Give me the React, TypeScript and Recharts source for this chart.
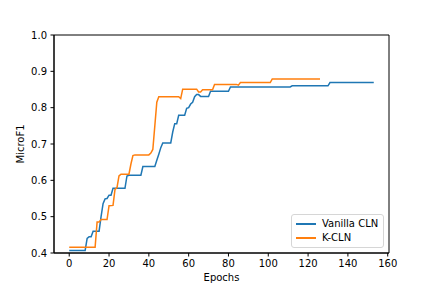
import React from 'react';
import { LineChart, Line, XAxis, YAxis, ReferenceArea, Label } from 'recharts';

const xTicks = [0, 20, 40, 60, 80, 100, 120, 140, 160];
const yTicks = [0.4, 0.5, 0.6, 0.7, 0.8, 0.9, 1.0];
const xDomain: [number, number] = [-7.65, 160.65];
const yDomain: [number, number] = [0.4, 1.0];

const vanillaEpochs = [0, 8, 9, 10, 11, 12, 15, 16, 17, 18, 19, 20, 21, 22, 28, 29, 30, 36, 37, 43, 44, 45, 46, 47, 51, 52, 53, 54, 55, 58, 59, 60, 61, 62, 63, 64, 65, 66, 70, 71, 80, 81, 111, 112, 130, 131, 153];
const vanillaScores = [0.407, 0.407, 0.44, 0.445, 0.445, 0.46, 0.46, 0.5, 0.536, 0.549, 0.55, 0.559, 0.559, 0.578, 0.578, 0.612, 0.614, 0.614, 0.638, 0.638, 0.655, 0.672, 0.69, 0.703, 0.703, 0.733, 0.756, 0.756, 0.779, 0.779, 0.798, 0.8, 0.81, 0.815, 0.83, 0.836, 0.836, 0.831, 0.831, 0.845, 0.845, 0.857, 0.857, 0.86, 0.86, 0.869, 0.869];

const kclnEpochs = [0, 13, 14, 15, 16, 19, 20, 22, 23, 24, 25, 26, 30, 31, 32, 33, 40, 41, 42, 43, 44, 45, 55, 56, 57, 64, 65, 66, 67, 72, 73, 84, 85, 86, 101, 102, 126];
const kclnScores = [0.416, 0.416, 0.485, 0.485, 0.492, 0.492, 0.53, 0.531, 0.575, 0.58, 0.612, 0.617, 0.617, 0.645, 0.668, 0.67, 0.67, 0.675, 0.685, 0.75, 0.815, 0.83, 0.83, 0.825, 0.851, 0.851, 0.843, 0.843, 0.849, 0.849, 0.864, 0.864, 0.862, 0.869, 0.869, 0.879, 0.879];

const vanillaData = vanillaEpochs.map((e, i) => ({ epoch: e, score: vanillaScores[i] }));
const kclnData = kclnEpochs.map((e, i) => ({ epoch: e, score: kclnScores[i] }));

const BLUE = '#1f77b4';
const ORANGE = '#ff7f0e';
const FONT = '"DejaVu Sans", sans-serif';

export default function App() {
  const tickStyle = { fill: '#000', fontSize: 10, fontFamily: FONT };
  return (
    <div style={{ position: 'absolute', left: 0, top: 0, width: 432, height: 288, fontFamily: FONT, background: '#fff' }}>
      <LineChart width={432} height={288} margin={{ top: 35, right: 43, bottom: 0, left: 0 }}>
        <XAxis
          type="number"
          dataKey="epoch"
          domain={xDomain}
          ticks={xTicks}
          allowDataOverflow
          height={35}
          stroke="#000"
          tick={tickStyle}
          tickSize={3.5}
          tickMargin={3.5}
        >
          <Label value="Epochs" position="center" dy={6.5} style={{ fill: '#000', fontSize: 10, fontFamily: FONT }} />
        </XAxis>
        <YAxis
          type="number"
          domain={yDomain}
          ticks={yTicks}
          allowDataOverflow
          width={54}
          stroke="#000"
          tick={tickStyle}
          tickSize={3.5}
          tickMargin={3.5}
          tickFormatter={(v: number) => v.toFixed(1)}
        >
          <Label value="MicroF1" angle={-90} position="center" dx={-6.3} style={{ fill: '#000', fontSize: 10, fontFamily: FONT }} />
        </YAxis>
        <ReferenceArea x1={xDomain[0]} x2={xDomain[1]} y1={yDomain[0]} y2={yDomain[1]} fill="none" stroke="#000" strokeWidth={1} ifOverflow="visible" />
        <Line data={vanillaData} dataKey="score" type="linear" stroke={BLUE} strokeWidth={1.5} dot={false} isAnimationActive={false} />
        <Line data={kclnData} dataKey="score" type="linear" stroke={ORANGE} strokeWidth={1.5} dot={false} isAnimationActive={false} />
      </LineChart>
      <div
        style={{
          position: 'absolute',
          left: 291,
          top: 214,
          width: 93,
          height: 34,
          boxSizing: 'border-box',
          border: '1px solid #d6d6d6',
          borderRadius: 3,
          background: 'rgba(255,255,255,0.8)',
          fontSize: 10,
          color: '#000',
          fontFamily: FONT,
        }}
      >
        <div style={{ position: 'absolute', left: 4, top: 8, width: 20, height: 1.5, background: BLUE }} />
        <div style={{ position: 'absolute', left: 30, top: 2, lineHeight: '14px', whiteSpace: 'nowrap' }}>Vanilla CLN</div>
        <div style={{ position: 'absolute', left: 4, top: 22, width: 20, height: 1.5, background: ORANGE }} />
        <div style={{ position: 'absolute', left: 30, top: 16, lineHeight: '14px', whiteSpace: 'nowrap' }}>K-CLN</div>
      </div>
    </div>
  );
}
